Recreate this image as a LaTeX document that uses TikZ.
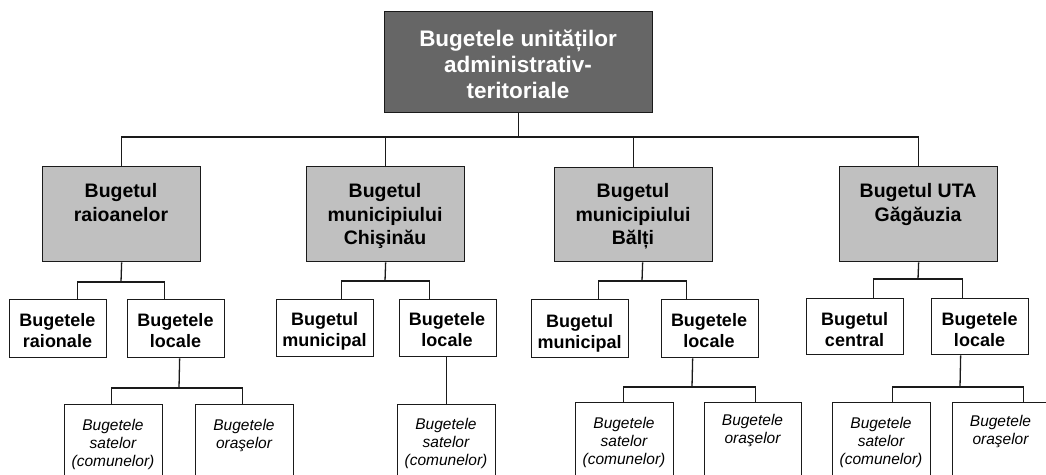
\documentclass[tikz,border=0pt]{standalone}
\usepackage{fontspec}
\setmainfont{Liberation Sans}
\definecolor{topgray}{HTML}{666666}
\definecolor{midgray}{HTML}{C0C0C0}
\definecolor{edge}{HTML}{1A1A1A}
\begin{document}
\begin{tikzpicture}[x=1pt,y=-1pt,
  line width=1.3pt, draw=edge,
  box/.style 2 args={draw=edge, line width=1.3pt, anchor=north west, inner sep=0pt,
     minimum width=#1pt, minimum height=#2pt},
  lineto/.style={draw=edge, line width=1.3pt},
  t1/.style={anchor=north, inner sep=0pt, align=center, text=white,
     font=\bfseries\fontsize{22.5}{26}\selectfont},
  t2/.style={anchor=north, inner sep=0pt, align=center,
     font=\bfseries\fontsize{19.5}{23.5}\selectfont},
  t3/.style={anchor=north, inner sep=0pt, align=center,
     font=\bfseries\fontsize{18}{21}\selectfont},
  t4/.style={anchor=north, inner sep=0pt, align=center,
     font=\itshape\fontsize{15.5}{18}\selectfont}]
\useasboundingbox (0,0) rectangle (1046,474);
\clip (0,0) rectangle (1046,474);
\fill[white] (0,0) rectangle (1046,474);

% top
\node[box={268}{101}, fill=topgray] (T) at (384,11) {};
\node[t1] (Tt) at (518,29) {Bugetele unităților\\administrativ-\\teritoriale};

% level 2
\node[box={158}{95}, fill=midgray] (R1) at (42,166) {};
\node[box={158}{95}, fill=midgray] (C1) at (306,166) {};
\node[box={158}{94}, fill=midgray] (B1) at (554,167) {};
\node[box={158}{95}, fill=midgray] (G1) at (839,166) {};
\node[t2] (R1t) at (121,183) {Bugetul\\raioanelor};
\node[t2] (C1t) at (385,183) {Bugetul\\municipiului\\Chişinău};
\node[t2] (B1t) at (633,183) {Bugetul\\municipiului\\Bălți};
\node[t2] (G1t) at (918,183) {Bugetul UTA\\Găgăuzia};

% level 3
\node[box={97}{58}] (Rr) at (9,299) {};
\node[box={97}{58}] (Rl) at (127,299) {};
\node[box={97}{57}] (Cm) at (276,299) {};
\node[box={97}{57}] (Cl) at (398.5,299) {};
\node[box={97}{58}] (Bm) at (531,299) {};
\node[box={97}{58}] (Bl) at (660.5,299) {};
\node[box={97}{56}] (Gc) at (806,298) {};
\node[box={97}{56}] (Gl) at (931,298) {};
\node[t3] (Rrt) at (57.5,313) {Bugetele\\raionale};
\node[t3] (Rlt) at (175.5,313) {Bugetele\\locale};
\node[t3] (Cmt) at (324.5,312) {Bugetul\\municipal};
\node[t3] (Clt) at (447,312) {Bugetele\\locale};
\node[t3] (Bmt) at (579.5,314) {Bugetul\\municipal};
\node[t3] (Blt) at (709,313) {Bugetele\\locale};
\node[t3] (Gct) at (854.5,312) {Bugetul\\central};
\node[t3] (Glt) at (979.5,312) {Bugetele\\locale};

% level 4
\node[box={98}{100}] (Rs) at (64,404) {};
\node[box={98}{100}] (Ro) at (195,404) {};
\node[box={98}{100}] (Cs) at (397,404) {};
\node[box={98}{100}] (Bs) at (575,402) {};
\node[box={97}{100}] (Bo) at (704,402) {};
\node[box={98}{100}] (Gs) at (832,402) {};
\node[box={97}{100}] (Go) at (952,402) {};
\node[t4] (Rst) at (113,419) {Bugetele\\satelor\\(comunelor)};
\node[t4] (Rot) at (244,419) {Bugetele\\oraşelor};
\node[t4] (Cst) at (446,418) {Bugetele\\satelor\\(comunelor)};
\node[t4] (Bst) at (624,417) {Bugetele\\satelor\\(comunelor)};
\node[t4] (Bot) at (752.5,414) {Bugetele\\oraşelor};
\node[t4] (Gst) at (881,417) {Bugetele\\satelor\\(comunelor)};
\node[t4] (Got) at (1000.5,415) {Bugetele\\oraşelor};

% main bus
\coordinate (busY) at (0,137);
\draw[lineto] (T.south) -- (T.south |- busY);
\draw[lineto] (R1.north) -- (R1.north |- busY) -- (G1.north |- busY) -- (G1.north);
\draw[lineto] (C1.north) -- (C1.north |- busY);
\draw[lineto] (B1.north) -- (B1.north |- busY);

% raioanelor
\coordinate (rb) at (121,282);
\draw[lineto] (R1.south) -- (rb);
\draw[lineto] ([xshift=19.5pt]Rr.north) |- (rb) -| ([xshift=-11.5pt]Rl.north);
\coordinate (rlb) at (179,388);
\draw[lineto] ([xshift=3.5pt]Rl.south) -- (rlb);
\draw[lineto] ([xshift=-2pt]Rs.north) |- (rlb) -| ([xshift=-2pt]Ro.north);

% Chisinau
\coordinate (cb) at (385,281);
\draw[lineto] (C1.south) -- (cb);
\draw[lineto] ([xshift=16.5pt]Cm.north) |- (cb) -| ([xshift=-18pt]Cl.north);
\draw[lineto] ([xshift=-1pt]Cl.south) -- (Cs.north);

% Balti
\coordinate (bb) at (642,281);
\draw[lineto] ([xshift=9pt]B1.south) -- (bb);
\draw[lineto] ([xshift=18.5pt]Bm.north) |- (bb) -| ([xshift=-23pt]Bl.north);
\coordinate (blb) at (692,387);
\draw[lineto] ([xshift=-17pt]Bl.south) -- (blb);
\draw[lineto] ([xshift=-1pt]Bs.north) |- (blb) -| ([xshift=2.5pt]Bo.north);

% Gagauzia
\coordinate (gb) at (918,279);
\draw[lineto] (G1.south) -- (gb);
\draw[lineto] ([xshift=18.5pt]Gc.north) |- (gb) -| ([xshift=-17.5pt]Gl.north);
\coordinate (glb) at (960,387);
\draw[lineto] ([xshift=-19.5pt]Gl.south) -- (glb);
\draw[lineto] ([xshift=11pt]Gs.north) |- (glb) -| ([xshift=22.5pt]Go.north);
\end{tikzpicture}
\end{document}
